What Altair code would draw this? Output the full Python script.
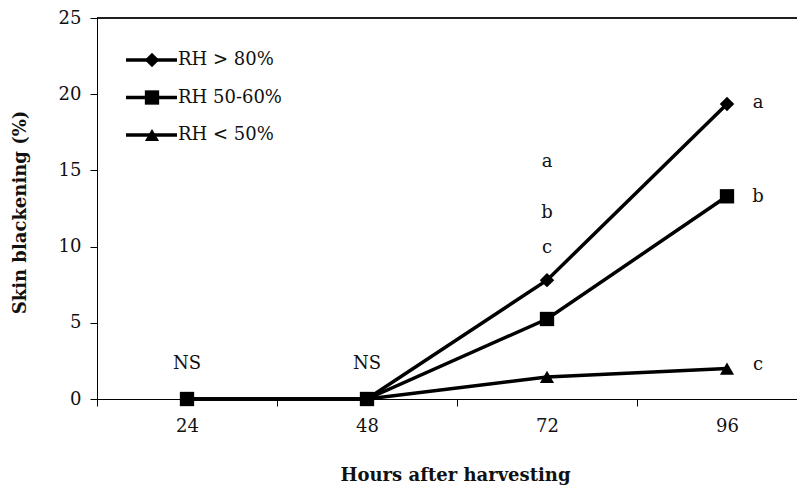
import altair as alt
import pandas as pd

hours = ["24", "48", "72", "96"]
series = ["RH > 80%", "RH 50-60%", "RH < 50%"]
rh_high = [0.0, 0.0, 7.8, 19.35]
rh_mid = [0.0, 0.0, 5.25, 13.3]
rh_low = [0.0, 0.0, 1.45, 2.0]

# significance labels: above points (centered) and to the right of last points
ann_hour_c = ["24", "48", "72", "72", "72"]
ann_text_c = ["NS", "NS", "a", "b", "c"]
ann_y_c = [2.0, 2.0, 15.2, 11.9, 9.6]
ann_hour_r = ["96", "96", "96"]
ann_text_r = ["a", "b", "c"]
ann_y_r = [19.1, 12.9, 1.9]

rows = []
for name, vals in zip(series, [rh_high, rh_mid, rh_low]):
    for h, v in zip(hours, vals):
        rows.append({"hour": h, "value": v, "series": name})
df = pd.DataFrame(rows)
order = {"RH < 50%": 0, "RH > 80%": 1, "RH 50-60%": 2}
df["order"] = df["series"].map(order)
df = df.sort_values("order")

ann_c = pd.DataFrame({"hour": ann_hour_c, "text": ann_text_c, "value": ann_y_c})
ann_r = pd.DataFrame({"hour": ann_hour_r, "text": ann_text_r, "value": ann_y_r})
leg = pd.DataFrame({"series": series})

FONT = "DejaVu Serif"
FS = 18

x_axis = alt.Axis(
    title="Hours after harvesting",
    tickBand="extent",
    labelAngle=0,
    tickSize=7,
    labelPadding=11,
    labelFont=FONT,
    labelFontSize=FS,
    labelColor="#111",
    titleFont=FONT,
    titleFontSize=18,
    titleFontWeight="bold",
    titleColor="#111",
    titleBaseline="alphabetic",
    titleY=81,
    titleX=358,
    domainColor="black",
    tickColor="black",
)
x_scale = alt.Scale(type="band", domain=hours, range=[0, 720], paddingInner=0, paddingOuter=0)
x_enc = alt.X("hour:N", sort=hours, bandPosition=0.5, scale=x_scale, axis=x_axis)

y_scale = alt.Scale(domain=[0, 25], nice=False, zero=True)
y_axis = alt.Axis(
    title="Skin blackening (%)",
    values=[0, 5, 10, 15, 20, 25],
    grid=False,
    tickSize=7,
    labelPadding=9,
    labelFont=FONT,
    labelFontSize=FS,
    labelColor="#111",
    titleFont=FONT,
    titleFontSize=18,
    titleFontWeight="bold",
    titleColor="#111",
    titleX=-77,
    titleY=194,
    titleBaseline="middle",
    domainColor="black",
    tickColor="black",
)
y_enc = alt.Y("value:Q", scale=y_scale, axis=y_axis)

shape_scale = alt.Scale(domain=series, range=["diamond", "square", "triangle-up"])
size_scale = alt.Scale(domain=series, range=[210, 200, 210])

lines = alt.Chart(df).mark_line(color="black", strokeWidth=3.5).encode(
    x=x_enc, y=y_enc, detail="series:N", order="hour:N"
)
points = alt.Chart(df).mark_point(filled=True, color="black", opacity=1).encode(
    x=x_enc,
    y=y_enc,
    shape=alt.Shape("series:N", scale=shape_scale, legend=None),
    size=alt.Size("series:N", scale=size_scale, legend=None),
    order=alt.Order("order:Q"),
)
texts_c = alt.Chart(ann_c).mark_text(
    font=FONT, fontSize=FS, color="#111", baseline="alphabetic", align="center"
).encode(x=x_enc, y=y_enc, text="text:N")
texts_r = alt.Chart(ann_r).mark_text(
    font=FONT, fontSize=FS, color="#111", baseline="alphabetic", align="center", dx=31
).encode(x=x_enc, y=y_enc, text="text:N")
top_rule = alt.Chart(ann_r).mark_rule(color="black", strokeWidth=1).encode(
    x=alt.value(0), x2=alt.value(720), y=alt.datum(25)
)
main = alt.layer(lines, points, texts_c, texts_r, top_rule)

leg_y = alt.Y(
    "series:N",
    sort=series,
    scale=alt.Scale(type="point", domain=series, range=[42, 117], padding=0, paddingOuter=0),
    axis=None,
)
leg_rule = alt.Chart(leg).mark_rule(color="black", strokeWidth=3.5).encode(
    x=alt.value(29), x2=alt.value(80), y=leg_y
)
leg_pts = alt.Chart(leg).mark_point(filled=True, color="black", opacity=1).encode(
    x=alt.value(55),
    y=leg_y,
    shape=alt.Shape("series:N", scale=shape_scale, legend=None),
    size=alt.Size("series:N", scale=size_scale, legend=None),
)
leg_txt = alt.Chart(leg).mark_text(
    font=FONT, fontSize=FS, color="#111", align="left", baseline="middle"
).encode(x=alt.value(81), y=leg_y, text="series:N")
legend = alt.layer(leg_rule, leg_pts, leg_txt)

chart = (
    alt.layer(main, legend)
    .resolve_scale(y="independent")
    .properties(
        width=700,
        height=381,
        autosize=alt.AutoSizeParams(type="none"),
        padding={"left": 89, "top": 10, "right": 0, "bottom": 87},
        background="white",
    )
    .configure_view(stroke=None)
)

chart.save("out.html", embed_options={"renderer": "svg", "actions": False})
